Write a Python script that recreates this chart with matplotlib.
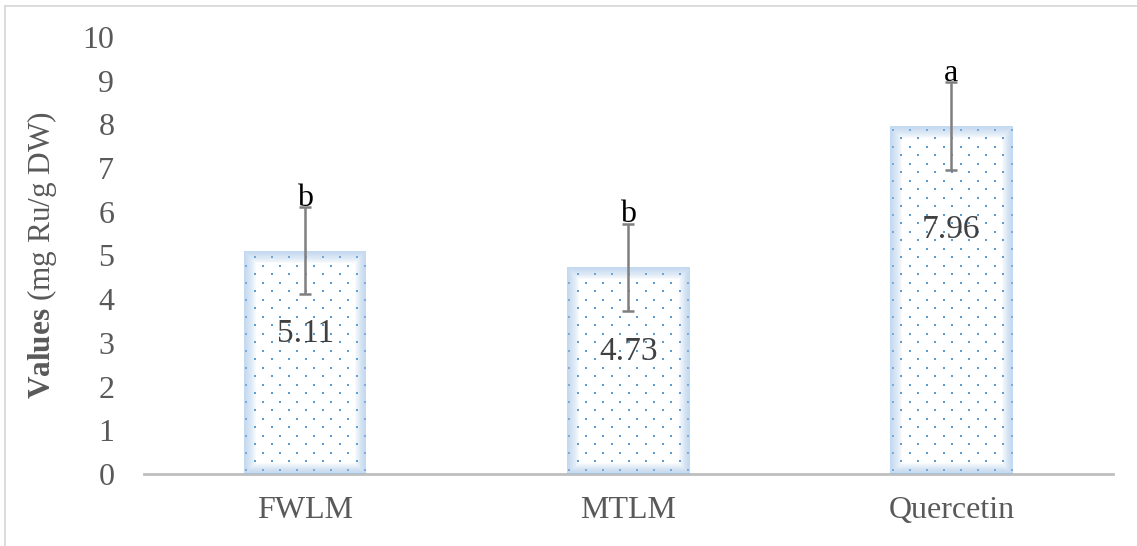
import matplotlib
matplotlib.use('Agg')
import matplotlib.pyplot as plt
import numpy as np
from matplotlib.patches import Rectangle
from matplotlib.lines import Line2D

categories = ['FWLM', 'MTLM', 'Quercetin']
values = [5.11, 4.73, 7.96]
errors = [1.0, 1.0, 1.0]
letters = ['b', 'b', 'a']
label_y = [3.2, 2.8, 5.6]
yticks = list(range(0, 11))

plt.rcParams['font.family'] = ['Liberation Serif', 'DejaVu Serif']
plt.rcParams['mathtext.fontset'] = 'custom'
plt.rcParams['mathtext.rm'] = 'Liberation Serif'
plt.rcParams['mathtext.bf'] = 'Liberation Serif:bold'

W, H = 1137, 546
fig = plt.figure(figsize=(W / 100, H / 100), dpi=100)
ax = fig.add_axes([143.5 / W, 1 - 474 / H, (1113 - 143.5) / W, (474 - 37) / H])

x = np.arange(len(categories))
bars = ax.bar(x, values, width=0.38, color='white', edgecolor='none', zorder=2)

# dotted texture and soft blue inner edge
dx = 17 / 323.0
dy = 8.5 / 43.7
for b in bars:
    x0, w, h = b.get_x(), b.get_width(), b.get_height()
    pts_x, pts_y = [], []
    nrows = int(h / dy) + 1
    for j in range(nrows):
        yy = (j + 0.5) * dy
        off = (j % 2) * dx / 2
        xs = np.arange(x0 + 0.15 * dx + off, x0 + w, dx)
        pts_x.extend(xs)
        pts_y.extend([yy] * len(xs))
    sc = ax.scatter(pts_x, pts_y, s=4, marker='s', color='#5B9BD5',
                    linewidths=0, zorder=3)
    sc.set_clip_path(b)
    for lw in np.arange(1.5, 17, 1.5):
        r = Rectangle(b.get_xy(), w, h, fill=False, edgecolor='#9EC3EA',
                      lw=lw, alpha=0.075, zorder=3)
        ax.add_patch(r)
        r.set_clip_path(b)

ax.errorbar(x, values, yerr=errors, fmt='none', ecolor='#7F7F7F',
            elinewidth=1.8, capsize=4.5, capthick=1.8, zorder=4)

for xi, v, e, let in zip(x, values, errors, letters):
    ax.annotate(let, (xi, v + e), xytext=(0, 1), textcoords='offset points',
                ha='center', va='baseline', fontsize=23, color='black', zorder=5)

for xi, v, ly in zip(x, values, label_y):
    ax.text(xi, ly, f'{v:.2f}', ha='center', va='center', fontsize=24,
            color='#404040', zorder=5)

ax.set_xlim(-0.5, 2.5)
ax.set_ylim(0, 10)
ax.set_yticks(yticks)
ax.set_xticks(x)
ax.set_xticklabels(categories)
for s in ['top', 'left', 'right']:
    ax.spines[s].set_visible(False)
ax.spines['bottom'].set_color('#BFBFBF')
ax.spines['bottom'].set_linewidth(2)
ax.tick_params(axis='both', length=0, colors='#595959')
ax.tick_params(axis='y', labelsize=23, pad=21)
ax.tick_params(axis='x', labelsize=23, pad=16)
ax.set_facecolor('none')

fig.text(42 / W, 1 - 255 / H, r'$\mathbf{Values}$ (mg Ru/g DW)', rotation=90,
         ha='center', va='center', fontsize=22.5, color='#595959')

fig.add_artist(Line2D([4.8 / W, 4.8 / W], [0, 1 - 5.8 / H], color='#D9D9D9', lw=1.3))
fig.add_artist(Line2D([4.8 / W, 1], [1 - 5.8 / H, 1 - 5.8 / H], color='#D9D9D9', lw=1.3))

fig.savefig('out.png', dpi=100)
